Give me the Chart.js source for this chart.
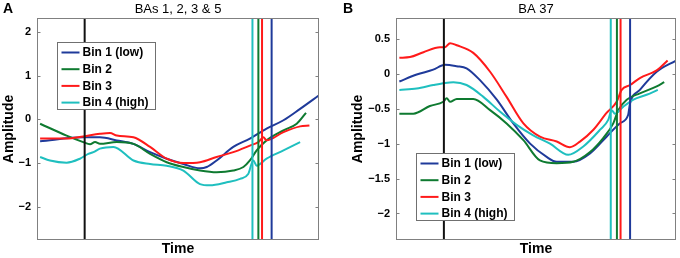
<!DOCTYPE html>
<html>
<head>
<meta charset="utf-8">
<script src="https://cdn.jsdelivr.net/npm/chart.js@4.4.0/dist/chart.umd.min.js"></script>
<style>
	html, body { margin: 0; padding: 0; background: #fff; }
	#wrap { width: 680px; height: 258px; display: flex; }
	canvas { display: block; }
</style>
</head>
<body>
<div id="wrap">
	<canvas id="chartA" width="340" height="258"></canvas>
	<canvas id="chartB" width="340" height="258"></canvas>
</div>
<script>
// ---- panel A : BAs 1, 2, 3 & 5 ----
var yRangeA = [-2.76, 2.32];
var yTicksA = [-2, -1, 0, 1, 2];
var markersA = [16.9, 76.4, 78.5, 79.8, 83.2];   // onset (black) + per-bin lines

var tA_bin1 = [1.1, 16.4, 22.3, 28.3, 34.2, 40.1, 46.0, 51.9, 57.8, 60.2, 63.7, 69.6, 75.5, 81.4, 87.4, 93.3, 100];
var aA_bin1 = [-0.50, -0.41, -0.41, -0.48, -0.56, -0.75, -0.90, -1.02, -1.12, -1.09, -0.94, -0.63, -0.44, -0.21, -0.02, 0.24, 0.55];

var tA_bin2 = [1.1, 10.5, 16.4, 18.8, 20.6, 22.3, 28.3, 34.2, 40.1, 46.0, 51.9, 57.8, 63.7, 69.6, 73.2, 75.5, 77.9, 81.4, 87.4, 92.1, 95.4];
var aA_bin2 = [-0.10, -0.37, -0.52, -0.57, -0.52, -0.56, -0.52, -0.56, -0.79, -0.98, -1.09, -1.17, -1.21, -1.17, -1.09, -0.94, -0.71, -0.48, -0.25, -0.10, 0.15];

var tA_bin3 = [1.1, 10.5, 16.4, 22.3, 25.9, 28.3, 34.2, 40.1, 46.0, 51.9, 57.8, 63.7, 69.6, 75.5, 78.5, 80.3, 81.4, 87.4, 93.3, 96.6];
var aA_bin3 = [-0.44, -0.44, -0.39, -0.33, -0.31, -0.37, -0.41, -0.63, -0.90, -1.00, -0.98, -0.86, -0.75, -0.60, -0.52, -0.41, -0.48, -0.29, -0.16, -0.14];

var tA_bin4 = [1.1, 4.6, 10.5, 15.2, 18.2, 20.0, 22.3, 27.1, 34.2, 40.1, 46.0, 51.9, 57.8, 61.3, 67.3, 72.0, 74.9, 76.7, 77.9, 81.4, 87.4, 93.3];
var aA_bin4 = [-0.86, -0.94, -0.99, -0.90, -0.79, -0.75, -0.67, -0.63, -0.94, -1.02, -1.06, -1.17, -1.48, -1.51, -1.44, -1.36, -1.25, -0.94, -1.06, -0.90, -0.71, -0.52];

// ---- panel B : BA 37 ----
var yRangeB = [-2.38, 0.80];
var yTicksB = [-2, -1.5, -1, -0.5, 0, 0.5];
var markersB = [17.1, 76.7, 78.9, 80.2, 83.6];

var tB_bin1 = [1.2, 7.4, 13.3, 17.5, 21.7, 25.2, 30.0, 36.0, 41.9, 47.9, 53.8, 57.4, 63.3, 69.3, 75.2, 79.9, 82.9, 83.6, 87.1, 93.1, 100];
var aB_bin1 = [-0.11, -0.01, 0.06, 0.13, 0.11, 0.08, -0.09, -0.37, -0.71, -1.00, -1.19, -1.26, -1.26, -1.14, -0.90, -0.71, -0.59, -0.42, -0.23, 0.03, 0.19];

var tB_bin2 = [1.2, 6.2, 12.1, 16.9, 18.1, 19.3, 21.7, 27.6, 33.6, 39.5, 45.5, 51.4, 57.4, 63.3, 69.3, 74.0, 77.6, 79.4, 82.4, 87.1, 93.1, 95.8];
var aB_bin2 = [-0.57, -0.57, -0.46, -0.40, -0.35, -0.40, -0.36, -0.36, -0.52, -0.71, -0.95, -1.24, -1.28, -1.26, -1.12, -0.92, -0.71, -0.52, -0.37, -0.28, -0.18, -0.12];

var tB_bin3 = [1.2, 5.0, 9.8, 15.7, 17.5, 19.3, 21.7, 27.6, 33.6, 39.5, 45.5, 51.4, 57.4, 62.1, 65.7, 70.5, 75.2, 78.8, 80.6, 83.6, 87.1, 93.1, 97.0];
var aB_bin3 = [0.23, 0.24, 0.31, 0.38, 0.38, 0.44, 0.41, 0.30, 0.03, -0.33, -0.71, -0.90, -0.97, -1.05, -0.97, -0.80, -0.56, -0.40, -0.23, -0.16, -0.06, 0.05, 0.19];

var tB_bin4 = [1.2, 7.4, 13.3, 17.5, 20.5, 25.2, 31.2, 37.1, 43.1, 49.0, 55.0, 61.5, 66.9, 72.9, 75.8, 77.0, 78.2, 81.2, 84.8, 89.5, 93.5];
var aB_bin4 = [-0.23, -0.21, -0.16, -0.13, -0.12, -0.16, -0.33, -0.54, -0.73, -0.88, -1.00, -1.16, -1.04, -0.80, -0.66, -0.52, -0.57, -0.47, -0.37, -0.30, -0.23];

var binLabels = ['Bin 1 (low)', 'Bin 2', 'Bin 3', 'Bin 4 (high)'];
var binColors = ['#1f3a9a', '#0e7a30', '#ff1a1a', '#1fbfbf'];
var markerColors = ['#111111', '#1fbfbf', '#0e7a30', '#ff1a1a', '#1f3a9a'];

Chart.defaults.font.family = '"Liberation Sans", Arial, Helvetica, sans-serif';
Chart.defaults.color = '#000';

function fmtTick(v) {
	return v < 0 ? '\u2212' + Math.abs(v) : String(v);
}

function curve(i, xs, ys) {
	return {
		label: binLabels[i],
		data: xs.map(function (x, n) { return {x: x, y: ys[n]}; }),
		borderColor: binColors[i],
		borderWidth: 2,
		pointRadius: 0,
		cubicInterpolationMode: 'monotone',
		order: 4 - i     // later bins drawn on top
	};
}

function marker(i, t, yRange) {
	return {
		label: 'marker' + i,
		data: [{x: t, y: yRange[0]}, {x: t, y: yRange[1]}],
		borderColor: markerColors[i],
		borderWidth: 2,
		pointRadius: 0,
		order: 0
	};
}

// frame, inward ticks, title, panel letter and boxed legend
var panelPlugin = {
	id: 'panel',
	afterDatasetsDraw: function (chart, args, opts) {
		var ctx = chart.ctx, ca = chart.chartArea, ys = chart.scales.y;
		ctx.save();
		ctx.strokeStyle = '#808080';
		ctx.lineWidth = 1;
		var l = Math.round(ca.left) + 0.5, r = Math.round(ca.right) - 0.5;
		var t = Math.round(ca.top) + 0.5, b = Math.round(ca.bottom) - 0.5;
		ctx.strokeRect(l, t, r - l, b - t);
		ctx.beginPath();
		opts.ticks.forEach(function (v) {
			var py = Math.round(ys.getPixelForValue(v)) + 0.5;
			ctx.moveTo(l, py); ctx.lineTo(l + 3, py);
			ctx.moveTo(r, py); ctx.lineTo(r - 3, py);
		});
		ctx.stroke();
		ctx.restore();
	},
	afterDraw: function (chart, args, opts) {
		var ctx = chart.ctx, ca = chart.chartArea;
		var fam = Chart.defaults.font.family;
		ctx.save();
		ctx.fillStyle = '#000';
		ctx.textBaseline = 'middle';
		ctx.textAlign = 'center';
		ctx.font = '13px ' + fam;
		ctx.fillText(opts.title, (ca.left + ca.right) / 2, 9);
		ctx.textAlign = 'left';
		ctx.font = 'bold 14px ' + fam;
		ctx.fillText(opts.letter, 3, 9);

		// legend
		var bx = Math.round(ca.left) + 20.5, by = Math.round(ca.top) + opts.legendTop + 0.5;
		ctx.fillStyle = '#fff';
		ctx.fillRect(bx, by, 98, 67);
		ctx.strokeStyle = '#707070';
		ctx.lineWidth = 1;
		ctx.strokeRect(bx, by, 98, 67);
		ctx.font = 'bold 12px ' + fam;
		for (var i = 0; i < binLabels.length; i++) {
			var yy = by + 10 + i * 16.7;
			ctx.strokeStyle = binColors[i];
			ctx.lineWidth = 2;
			ctx.beginPath();
			ctx.moveTo(bx + 4, yy); ctx.lineTo(bx + 22, yy);
			ctx.stroke();
			ctx.fillStyle = '#000';
			ctx.fillText(binLabels[i], bx + 25, yy + 0.5);
		}
		ctx.restore();
	}
};

function makePanel(id, opt) {
	var ds = [];
	opt.markers.forEach(function (t, i) { ds.push(marker(i, t, opt.yRange)); });
	opt.curves.forEach(function (c, i) { ds.push(curve(i, c[0], c[1])); });

	return new Chart(document.getElementById(id), {
		type: 'line',
		data: { datasets: ds },
		plugins: [panelPlugin],
		options: {
			responsive: false,
			animation: false,
			layout: { padding: { top: 18, right: opt.rightPad, left: 0, bottom: 0 } },
			plugins: {
				legend: { display: false },
				tooltip: { enabled: false },
				panel: { title: opt.title, letter: opt.letter, legendTop: opt.legendTop, ticks: opt.yTicks }
			},
			scales: {
				x: {
					type: 'linear',
					min: 0,
					max: 100,
					afterFit: function (s) { s.height = 18; },
					grid: { display: false, drawTicks: false },
					border: { display: false },
					ticks: { display: false },
					title: { display: true, text: 'Time', color: '#000', font: { size: 14, weight: 'bold' }, padding: 0 }
				},
				y: {
					min: opt.yRange[0],
					max: opt.yRange[1],
					afterFit: function (s) { s.width = opt.leftWidth; },
					afterBuildTicks: function (s) { s.ticks = opt.yTicks.map(function (v) { return {value: v}; }); },
					grid: { display: false, drawTicks: false },
					border: { display: false },
					ticks: { padding: 6, color: '#000', font: { size: 11, weight: 'bold' }, callback: fmtTick },
					title: { display: true, text: 'Amplitude', color: '#000', font: { size: 14, weight: 'bold' }, padding: { top: opt.labelGap, bottom: 0 } }
				}
			}
		}
	});
}

makePanel('chartA', {
	title: 'BAs 1, 2, 3 & 5', letter: 'A',
	yRange: yRangeA, yTicks: yTicksA, markers: markersA,
	curves: [[tA_bin1, aA_bin1], [tA_bin2, aA_bin2], [tA_bin3, aA_bin3], [tA_bin4, aA_bin4]],
	leftWidth: 37, rightPad: 21, legendTop: 24, labelGap: 1
});

makePanel('chartB', {
	title: 'BA 37', letter: 'B',
	yRange: yRangeB, yTicks: yTicksB, markers: markersB,
	curves: [[tB_bin1, aB_bin1], [tB_bin2, aB_bin2], [tB_bin3, aB_bin3], [tB_bin4, aB_bin4]],
	leftWidth: 56, rightPad: 4, legendTop: 135, labelGap: 9.5
});
</script>
</body>
</html>
